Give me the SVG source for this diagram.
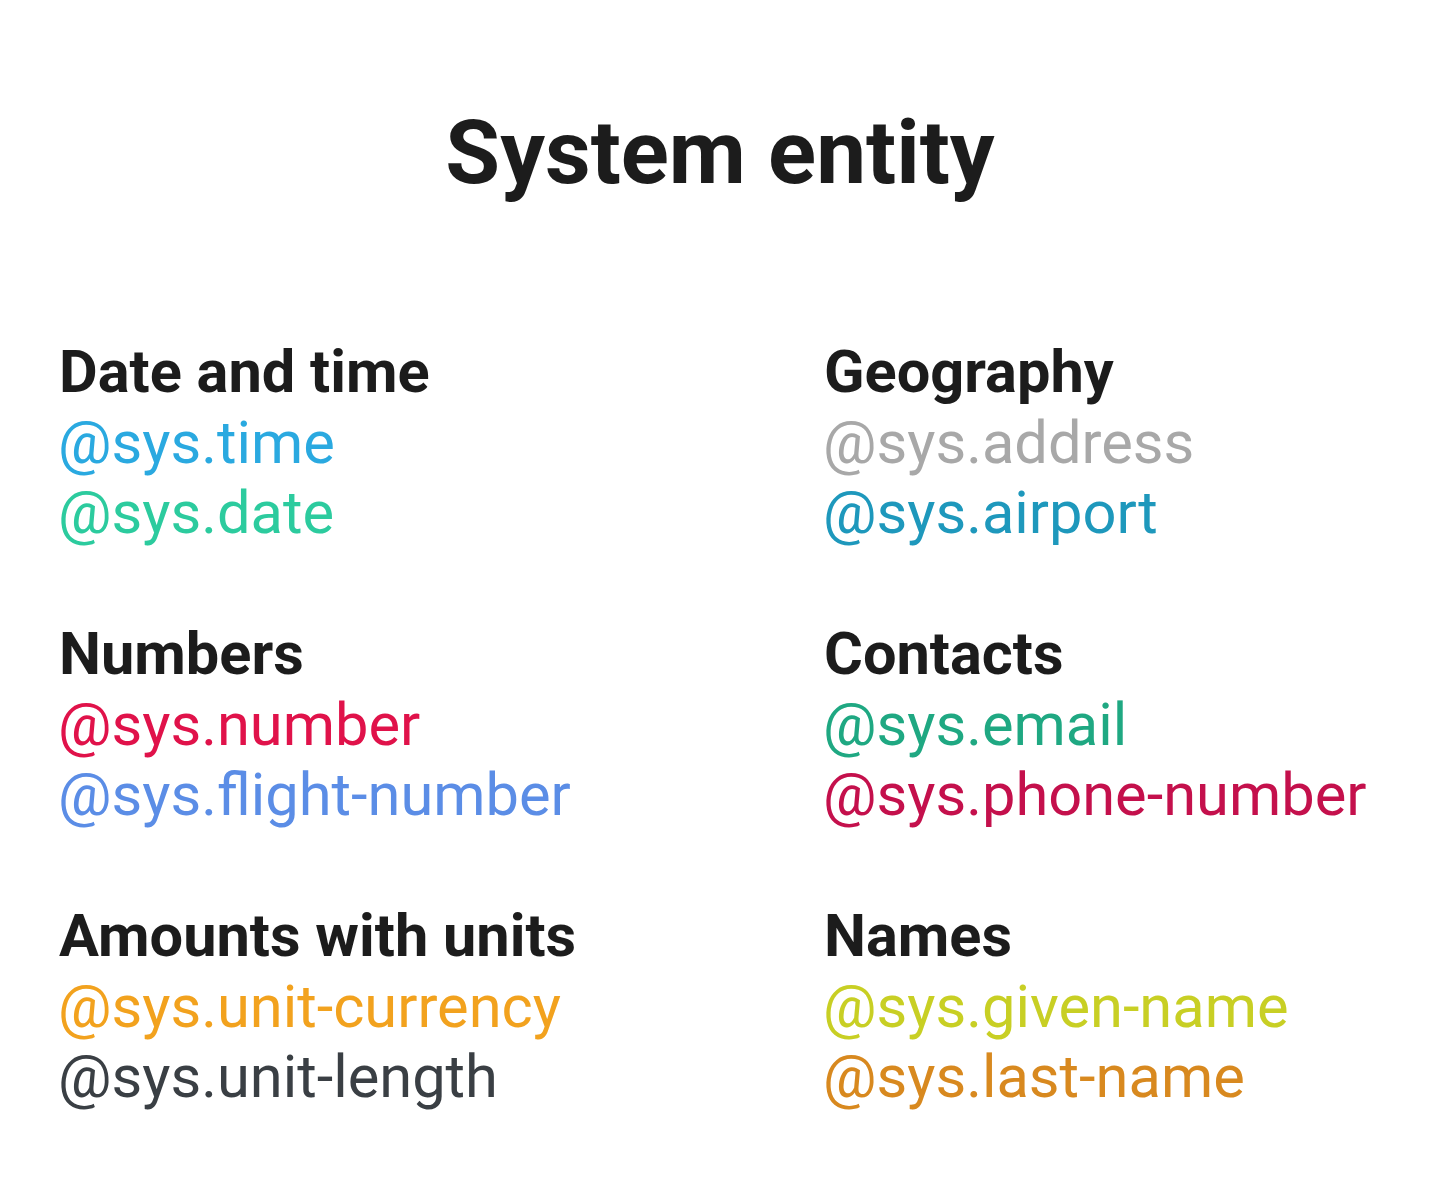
<svg xmlns="http://www.w3.org/2000/svg" width="1436" height="1184" viewBox="0 0 1436 1184">
<style>
text{font-family:Roboto,"Liberation Sans",sans-serif}
.title{font-size:89px;font-weight:700;fill:#1c1c1c}
.h{font-size:59.5px;font-weight:700;fill:#1c1c1c}
.i{font-size:59.6px;font-weight:400}
</style>
<rect width="1436" height="1184" fill="#ffffff"/>
<text id="title" class="title" x="720" y="183" text-anchor="middle">System entity</text>
<g id="date-and-time">
<text class="h" x="59" y="392">Date and time</text>
<text class="i" x="58" y="463" fill="#2aa9e0">@sys.time</text>
<text class="i" x="58" y="533" fill="#2ccb9e">@sys.date</text>
</g>
<g id="geography">
<text class="h" x="824" y="392">Geography</text>
<text class="i" x="823" y="463" fill="#a8a8a8">@sys.address</text>
<text class="i" x="823" y="533" fill="#1e98bc">@sys.airport</text>
</g>
<g id="numbers">
<text class="h" x="59" y="674">Numbers</text>
<text class="i" x="58" y="745" fill="#e0124a">@sys.number</text>
<text class="i" x="58" y="815" fill="#5b8de6">@sys.flight-number</text>
</g>
<g id="contacts">
<text class="h" x="824" y="674">Contacts</text>
<text class="i" x="823" y="745" fill="#1fa882">@sys.email</text>
<text class="i" x="823" y="815" fill="#c4104c">@sys.phone-number</text>
</g>
<g id="amounts">
<text class="h" x="59" y="956">Amounts with units</text>
<text class="i" x="58" y="1027" fill="#f2a21e">@sys.unit-currency</text>
<text class="i" x="58" y="1097" fill="#3a3f44">@sys.unit-length</text>
</g>
<g id="names">
<text class="h" x="824" y="956">Names</text>
<text class="i" x="823" y="1027" fill="#c8cf24">@sys.given-name</text>
<text class="i" x="823" y="1097" fill="#d8891f">@sys.last-name</text>
</g>
<g id="connectors"/>
</svg>
